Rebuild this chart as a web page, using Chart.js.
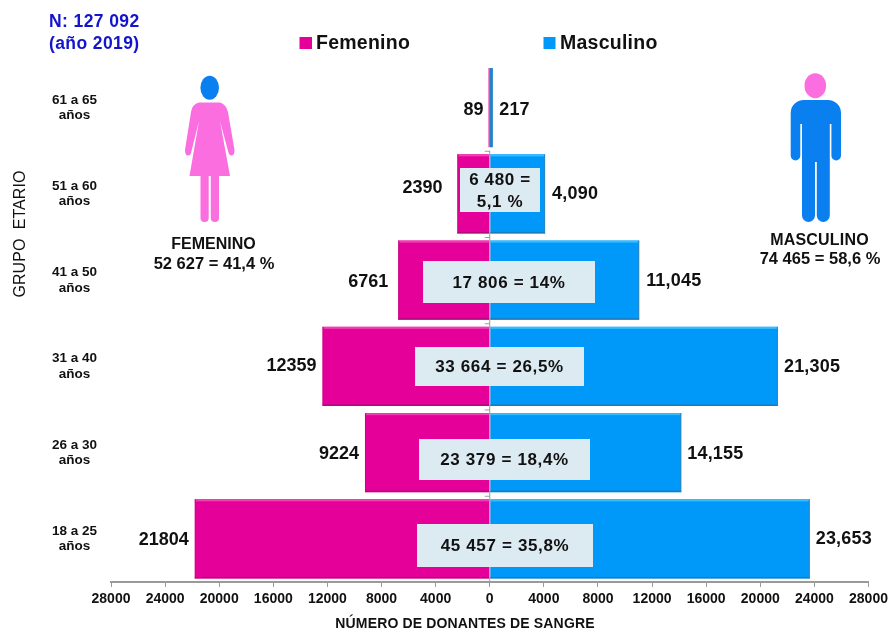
<!DOCTYPE html>
<html>
<head>
<meta charset="utf-8">
<style>html,body{margin:0;padding:0;background:#fff}canvas{display:block}</style>
<script src="https://cdn.jsdelivr.net/npm/chart.js@4"></script>
</head>
<body>
<canvas id="c" width="888" height="631"></canvas>
<script>
const ageGroups = [["61 a 65","años"],["51 a 60","años"],["41 a 50","años"],["31 a 40","años"],["26 a 30","años"],["18 a 25","años"]];
const femenino = [89, 2390, 6761, 12359, 9224, 21804];
const masculino = [217, 4090, 11045, 21305, 14155, 23653];
const femeninoLabels = ["89","2390","6761","12359","9224","21804"];
const masculinoLabels = ["217","4,090","11,045","21,305","14,155","23,653"];
const totalLabels = [null,["6 480 =","5,1 %"],["17 806 = 14%"],["33 664 = 26,5%"],["23 379 = 18,4%"],["45 457 = 35,8%"]];

const FONT = '"Liberation Sans", Arial, sans-serif';
const PINK = '#E6009A', BLUE = '#0099FA', LIGHT = '#DCEAF2', GREY = '#9A9A9A', INK = '#111';
// pixel rectangles of the light total boxes, per row
const BOXES = [null,[460,168,80,44],[423,261,172,42],[415,347,169,39],[419,439,171,41],[417,524,176,43]];
// fine placement nudges of the value labels, per row
const FEM_GAP = [5,15,10,6,6,6], MAS_GAP = [6.5,7,7,6,6,6];
const FEM_DY = [2,-5.5,1.5,0,1,1.5], MAS_DY = [2,0.5,0.5,1,1,0.5];

function txt(ctx, s, x, y, font, color, align, spacing){
  ctx.font = font; ctx.fillStyle = color; ctx.textAlign = align || 'center';
  ctx.textBaseline = 'middle'; ctx.letterSpacing = (spacing || 0) + 'px';
  ctx.fillText(s, x, y); ctx.letterSpacing = '0px';
}
function woman(ctx){
  const body = '#FB6EDF';
  ctx.fillStyle = '#0A80F0';
  ctx.beginPath(); ctx.ellipse(209.7, 87.7, 9.3, 12, 0, 0, 7); ctx.fill();
  ctx.fillStyle = body;
  ctx.beginPath();
  ctx.moveTo(199,102.5);
  ctx.quadraticCurveTo(192,104,191,112);
  ctx.lineTo(185,150);
  ctx.quadraticCurveTo(185,155.5,188,155.5);
  ctx.quadraticCurveTo(191,155.5,191.5,151);
  ctx.lineTo(199,121);
  ctx.lineTo(189.5,176); ctx.lineTo(230,176); ctx.lineTo(220,121);
  ctx.lineTo(228,151);
  ctx.quadraticCurveTo(229,155.5,231.5,155.5);
  ctx.quadraticCurveTo(234.5,155.5,234.5,150);
  ctx.lineTo(228,112);
  ctx.quadraticCurveTo(226,104,220,102.5);
  ctx.closePath(); ctx.fill();
  ctx.beginPath(); ctx.roundRect(200.5,170,8.2,52,4); ctx.roundRect(210.8,170,8.2,52,4); ctx.fill();
}
function man(ctx){
  ctx.fillStyle = '#FB6EDF';
  ctx.beginPath(); ctx.ellipse(815.3, 85.7, 10.8, 12.5, 0, 0, 7); ctx.fill();
  ctx.fillStyle = '#0A80F0';
  ctx.beginPath();
  ctx.roundRect(790.7,100,50.3,24,[13,13,0,0]);
  ctx.roundRect(790.7,112,9.6,48.5,4.8);
  ctx.roundRect(831.4,112,9.6,48.5,4.8);
  ctx.rect(802,112,27.8,50);
  ctx.roundRect(802,150,13,72,6.5);
  ctx.roundRect(816.8,150,13,72,6.5);
  ctx.fill();
}

const annotate = {
  id: 'annotate',
  afterDatasetsDraw(chart){
    const {ctx, scales:{x, y}} = chart;
    const zero = x.getPixelForValue(0);
    const band = y.height / ageGroups.length;
    ctx.save();
    // bevel on the bars
    chart.data.datasets.forEach((ds, d) => {
      chart.getDatasetMeta(d).data.forEach(bar => {
        const l = Math.min(bar.x, bar.base), w = Math.abs(bar.x - bar.base);
        const t = bar.y - bar.height/2, b = bar.y + bar.height/2;
        if (w < 5) { if (d) { ctx.fillStyle = '#2A80C0'; ctx.fillRect(l-1, t, w+1, b-t); } return; }
        ctx.fillStyle = d ? '#35BEFF' : '#F23DB3';
        ctx.fillRect(l, t, w, 2);
        ctx.fillStyle = d ? '#1A7DBF' : '#B30A7C';
        ctx.fillRect(l, b-1.5, w, 1.5);
        ctx.fillStyle = d ? '#2A86C4' : '#C4087F';
        if (d) ctx.fillRect(l+w-1, t, 1, b-t); else ctx.fillRect(l, t, 1, b-t);
      });
    });
    // central axis with its small ticks
    ctx.fillStyle = GREY;
    ctx.fillRect(zero-0.5, y.top + band, 1, y.bottom - y.top - band);
    ageGroups.forEach((g,i)=>{
      if (i) ctx.fillRect(zero-5, y.getPixelForValue(i)-band/2, 5, 1);
    });
    // value labels
    ageGroups.forEach((g,i)=>{
      const py = y.getPixelForValue(i);
      const bold = 'bold 18px ' + FONT;
      txt(ctx, femeninoLabels[i], x.getPixelForValue(-femenino[i]) - FEM_GAP[i], py + FEM_DY[i], bold, INK, 'right');
      txt(ctx, masculinoLabels[i], x.getPixelForValue(masculino[i]) + MAS_GAP[i], py + MAS_DY[i], bold, INK, 'left', 0.2);
    });
    // total boxes
    totalLabels.forEach((lines,i)=>{
      if (!lines) return;
      const [bx,by,bw,bh] = BOXES[i];
      ctx.fillStyle = LIGHT; ctx.fillRect(bx,by,bw,bh);
      const cx = bx+bw/2, cy = by+bh/2+1, lh = 22;
      lines.forEach((s,k)=>{
        txt(ctx, s, cx, cy + (k-(lines.length-1)/2)*lh, 'bold 17px ' + FONT, INK, 'center', 0.65);
      });
    });
    // headers
    const blue = '#1414CC';
    txt(ctx, 'N: 127 092', 49, 22.5, 'bold 17.5px ' + FONT, blue, 'left', 0.4);
    txt(ctx, '(año 2019)', 49, 44, 'bold 17.5px ' + FONT, blue, 'left', 0.4);
    // legend
    const ds = chart.data.datasets;
    ctx.fillStyle = ds[0].backgroundColor; ctx.fillRect(299.5,37,12.5,12);
    txt(ctx, ds[0].label, 316, 44, 'bold 19.5px ' + FONT, INK, 'left', 0.25);
    ctx.fillStyle = ds[1].backgroundColor; ctx.fillRect(543.5,37,12,12);
    txt(ctx, ds[1].label, 560, 44, 'bold 19.5px ' + FONT, INK, 'left', 0.25);
    // axis titles
    ctx.save(); ctx.translate(21,234); ctx.rotate(-Math.PI/2);
    txt(ctx, 'GRUPO  ETARIO', 0, 0, '16px ' + FONT, INK, 'center', 0.1);
    ctx.restore();
    txt(ctx, 'NÚMERO DE DONANTES DE SANGRE', 465, 624.5, 'bold 14px ' + FONT, INK, 'center', 0.15);
    // pictograms
    woman(ctx); man(ctx);
    txt(ctx, 'FEMENINO', 213.5, 245, 'bold 16px ' + FONT, INK);
    txt(ctx, '52 627 = 41,4 %', 214, 264, 'bold 16.5px ' + FONT, INK);
    txt(ctx, 'MASCULINO', 819.5, 241, 'bold 16px ' + FONT, INK, 'center', 0.2);
    txt(ctx, '74 465 = 58,6 %', 820, 259, 'bold 16.5px ' + FONT, INK);
    ctx.restore();
  }
};

new Chart(document.getElementById('c'), {
  type: 'bar',
  data: {
    labels: ageGroups,
    datasets: [
      {label:'Femenino', data: femenino.map(v => -v), backgroundColor: PINK, barPercentage: .916, categoryPercentage: 1},
      {label:'Masculino', data: masculino, backgroundColor: BLUE, barPercentage: .916, categoryPercentage: 1}
    ]
  },
  plugins: [annotate],
  options: {
    indexAxis: 'y',
    responsive: false,
    animation: false,
    layout: {padding: {left: 39, right: 19.5, top: 64.5, bottom: 0}},
    plugins: {legend: {display: false}, title: {display: false}, tooltip: {enabled: false}},
    scales: {
      x: {
        stacked: true, min: -28000, max: 28000,
        afterFit(s){ s.height = 49; s.paddingLeft = 0; s.paddingRight = 0; },
        border: {color: GREY, width: 2},
        grid: {drawOnChartArea: false, drawTicks: true, tickLength: 5, color: GREY},
        ticks: {
          stepSize: 4000, maxRotation: 0, autoSkip: false, padding: 4,
          color: INK, font: {family: FONT, size: 14, weight: 'bold'},
          callback: v => String(Math.abs(v))
        }
      },
      y: {
        stacked: true,
        afterFit(s){ s.width = 72; s.paddingTop = 0; s.paddingBottom = 0; },
        border: {display: false},
        grid: {display: false},
        ticks: {
          autoSkip: false, padding: 6, crossAlign: 'center',
          color: INK, font: {family: FONT, size: 13.5, weight: 'bold', lineHeight: 1.15}
        }
      }
    }
  }
});
</script>
</body>
</html>
